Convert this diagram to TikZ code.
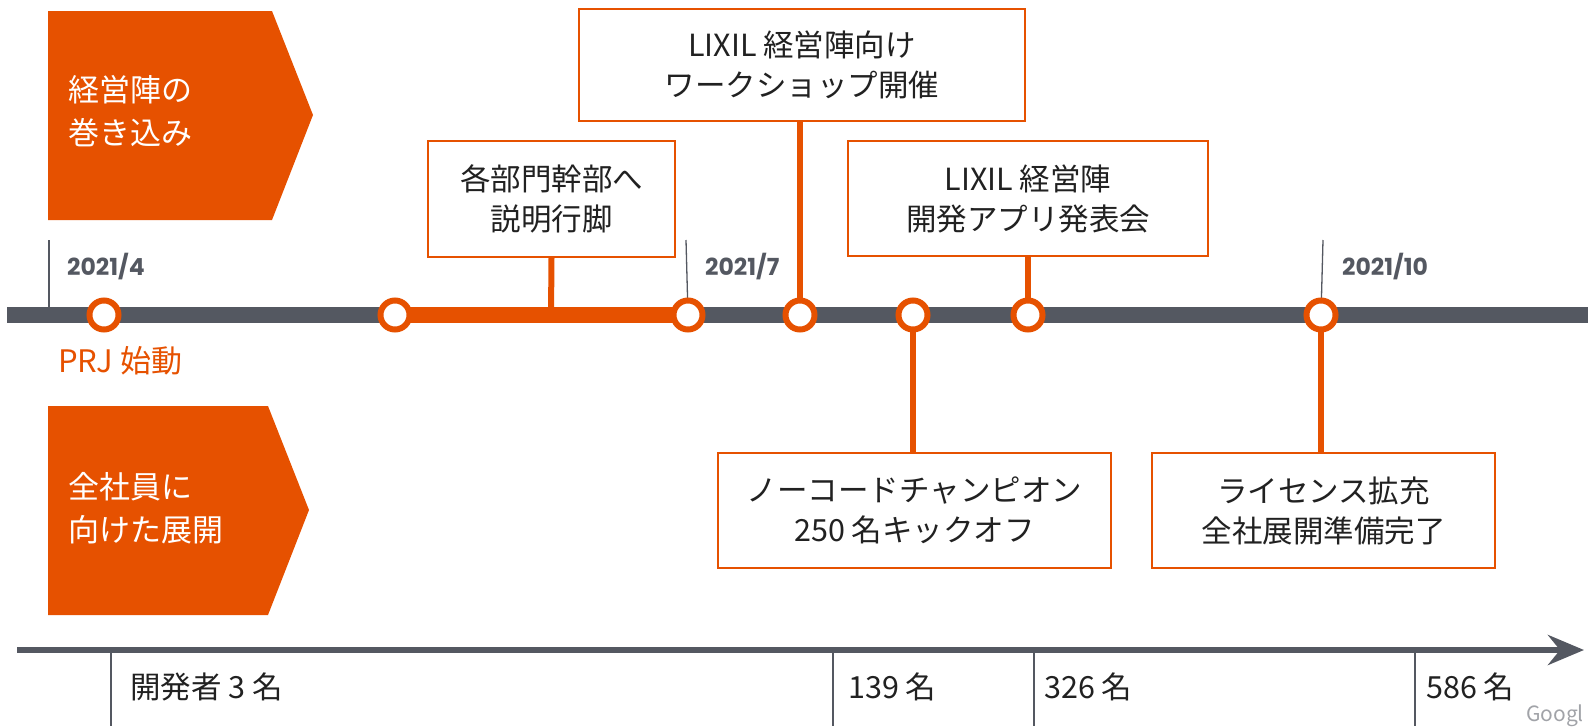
\documentclass[tikz,border=0pt]{standalone}
\usepackage{fontspec}
\setmainfont{Noto Sans CJK JP}
\newfontfamily\datefont{Poppins}
\usetikzlibrary{arrows.meta,positioning}
\definecolor{lxorange}{RGB}{230,81,0}
\definecolor{lxgray}{RGB}{84,88,97}
\definecolor{lxtext}{RGB}{33,33,33}

\begin{document}
\begin{tikzpicture}[x=1pt,y=-1pt]
\tikzset{evbox/.style ={draw=lxorange, line width=1.5pt, fill=white, align=center, inner sep=0pt,
    text=lxtext, font=\fontsize{30.5}{40}\selectfont},
  dot/.style ={circle, draw=lxorange, line width=6pt, fill=white, minimum size=29pt, inner sep=0pt},
  conn/.style ={lxorange, line width=6pt},
  tickline/.style ={lxgray, line width=1.3pt},
  datelbl/.style ={anchor=west, inner sep=0pt, text=lxgray, font=\datefont\bfseries\fontsize{23.5}{26}\selectfont},
  phasetxt/.style ={anchor=west, align=left, inner sep=0pt, text=white, font=\fontsize{31}{43}\selectfont},
  countlbl/.style ={anchor=west, inner sep=0pt, text=lxtext, font=\fontsize{30.5}{34}\selectfont}}
\useasboundingbox (0,0) rectangle (1588,726);
% phases
\fill[lxorange] (48,11) -- (272,11) -- (313,115) -- (272,220) -- (48,220) -- cycle;
\fill[lxorange] (48,406) -- (268,406) -- (309,510) -- (268,615) -- (48,615) -- cycle;
\node[phasetxt] (exec) at (68,111) {経営陣の\\巻き込み};
\node[phasetxt] (all) at (68,508) {全社員に\\向けた展開};
% timeline
\coordinate (p1) at (104,315);
\coordinate (p2) at (395,315);
\coordinate (p3) at (688,315);
\coordinate (p4) at (800,315);
\coordinate (p5) at (913,315);
\coordinate (p6) at (1028,315);
\coordinate (p7) at (1321,315);
\coordinate (t1) at (49,240);
\coordinate (t2) at (686,240);
\coordinate (t3) at (1323,240);
\draw[tickline] (t1) -- (49,315);
\draw[tickline] (t2) -- (p3);
\draw[tickline] (t3) -- (p7);
\draw[lxgray, line width=16pt] (7,315) -- (1588,315);
\draw[lxorange, line width=16pt] (p2) -- (p3);
\node[datelbl] (apr) at (67,267) {2021/4};
\node[datelbl] (jul) at (705,267) {2021/7};
\node[datelbl] (oct) at (1342,267) {2021/10};
% events
\node[evbox, minimum width=247pt, minimum height=116pt] (tour) at (551.5,199) {各部門幹部へ\\説明行脚};
\node[evbox, minimum width=446pt, minimum height=112pt] (ws) at (802,65) {LIXIL 経営陣向け\\ワークショップ開催};
\node[evbox, minimum width=360pt, minimum height=115pt] (demo) at (1028,198.5) {LIXIL 経営陣\\開発アプリ発表会};
\node[evbox, minimum width=393pt, minimum height=115pt] (champ) at (914.5,510.5) {ノーコードチャンピオン\\250 名キックオフ};
\node[evbox, minimum width=343pt, minimum height=115pt] (lic) at (1323.5,510.5) {ライセンス拡充\\全社展開準備完了};
\coordinate (q1) at (551,315);
\draw[conn] (tour.south) -- (q1);
\draw[conn] (ws.south -| p4) -- (p4);
\draw[conn] (demo.south) -- (p6);
\draw[conn] (champ.north -| p5) -- (p5);
\draw[conn] (lic.north -| p7) -- (p7);
\foreach \p in {p1,p2,p3,p4,p5,p6,p7}
  \node[dot] (d\p) at (\p) {};
\node[anchor=west, inner sep=0pt, text=lxorange, font=\fontsize{31}{34}\selectfont] (start) at (58,361) {PRJ 始動};
% developers
\draw[lxgray, line width=6pt, -{Stealth[length=36pt, width=30pt, inset=12pt]}] (17,650) -- (1584,650);
\foreach \x in {111,833,1034,1415}
  \draw[tickline] (\x,653) -- (\x,726);
\node[countlbl] (n1) at (130,687) {開発者 3 名};
\node[countlbl] (n2) at (848,687) {139 名};
\node[countlbl] (n3) at (1044,687) {326 名};
\node[countlbl] (n4) at (1426,687) {586 名};
\node[anchor=west, inner sep=0pt, text=lxgray!55, font=\fontsize{21}{22}\selectfont] (logo) at (1526,716) {Googl};
\end{tikzpicture}
\end{document}
